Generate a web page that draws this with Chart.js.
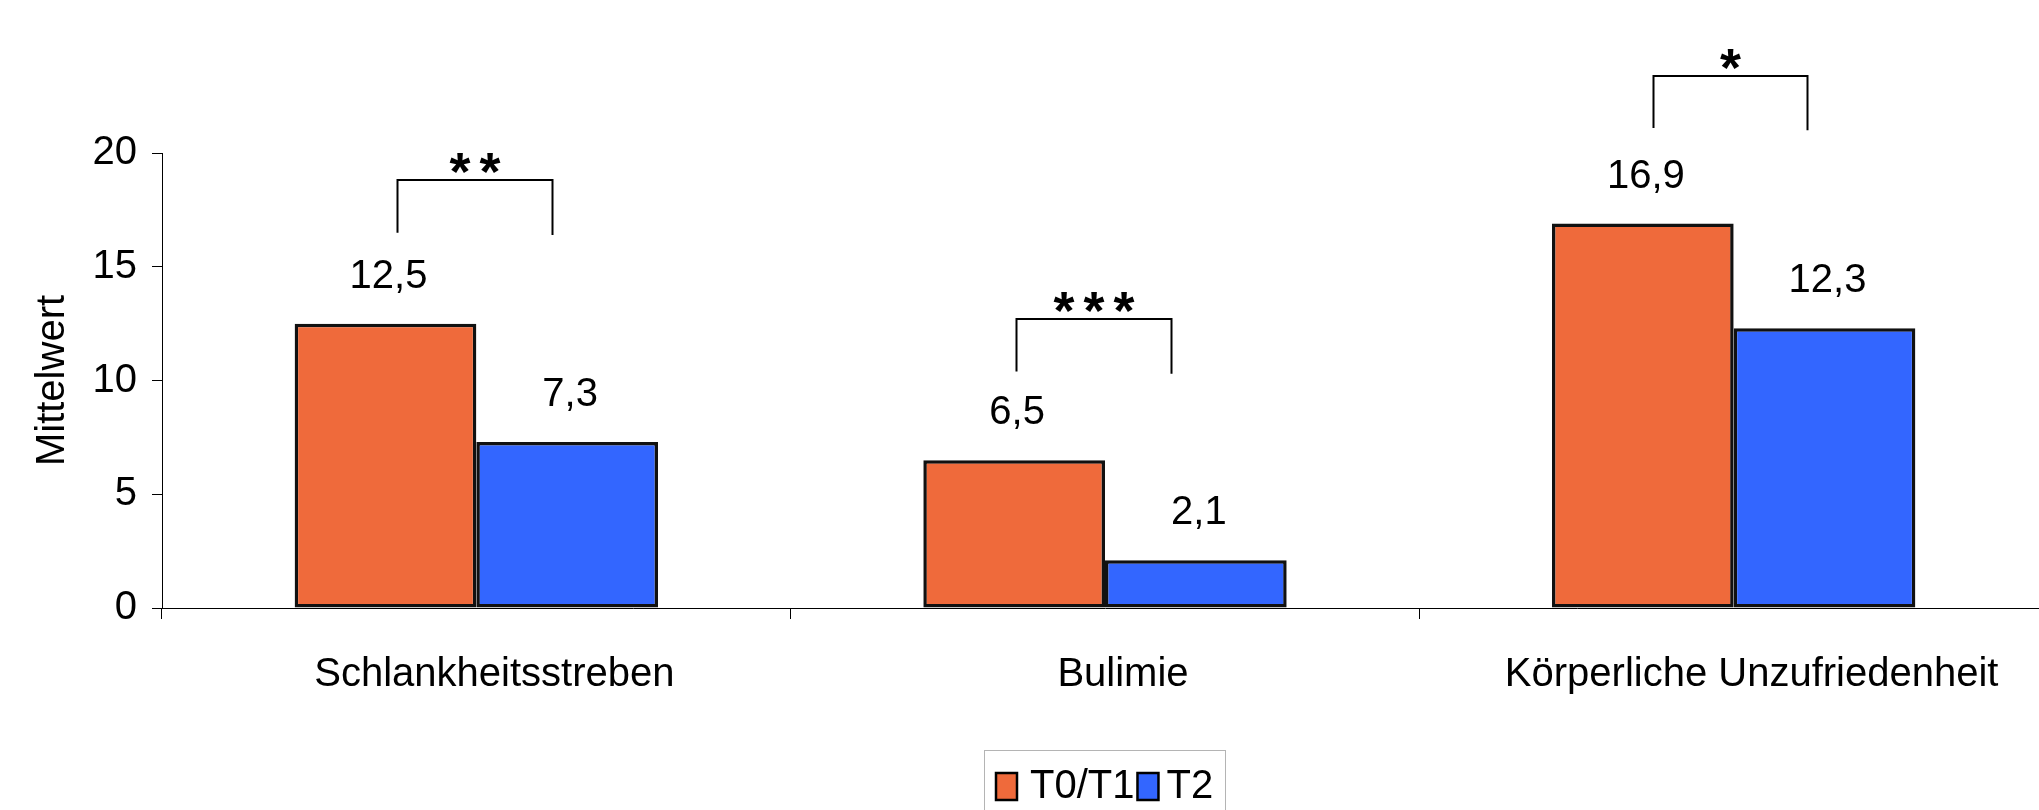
<!DOCTYPE html>
<html>
<head>
<meta charset="utf-8">
<script src="https://cdn.jsdelivr.net/npm/chart.js@4.4.1/dist/chart.umd.min.js"></script>
<style>
  html, body { margin: 0; padding: 0; background: #ffffff; overflow: hidden; }
  canvas { display: block; }
</style>
</head>
<body>
<canvas id="chart" width="2048" height="830"></canvas>
<script>
// ---- data ----
const categories = ['Schlankheitsstreben', 'Bulimie', 'Körperliche Unzufriedenheit'];
const seriesNames = ['T0/T1', 'T2'];
const valuesT0T1 = [12.5, 6.5, 16.9];
const valuesT2 = [7.3, 2.1, 12.3];
const yTickValues = [0, 5, 10, 15, 20];
const significance = ['**', '***', '*'];
const yAxisTitle = 'Mittelwert';

// ---- styling / annotation geometry (not data) ----
const FONT = "'Liberation Sans', Arial, Helvetica, sans-serif";
const FS = 40;
const COLORS = ['#EF6A3B', '#3366FF'];
const BRACKETS = {
  top:      [18.8, 12.7, 23.4],   // in y units
  leftEnd:  [16.5, 10.4, 21.1],
  rightEnd: [16.4, 10.3, 21.0],
  left:     [-0.434, -0.488, -0.445], // fraction of bar width from category centre
  right:    [0.417, 0.363, 0.403]
};

Chart.defaults.font.family = FONT;
Chart.defaults.font.size = FS;
Chart.defaults.color = '#000';

const overlay = {
  id: 'overlay',
  afterDatasetsDraw(chart) {
    const ctx = chart.ctx;
    const xs = chart.scales.x, ys = chart.scales.y;
    ctx.save();
    // value labels
    ctx.fillStyle = '#000';
    ctx.font = FS + 'px ' + FONT;
    ctx.textAlign = 'center';
    ctx.textBaseline = 'alphabetic';
    const digitH = ctx.measureText('0').actualBoundingBoxAscent;
    chart.data.datasets.forEach((ds, di) => {
      chart.getDatasetMeta(di).data.forEach((bar, i) => {
        const txt = ds.data[i].toFixed(1).replace('.', ',');
        ctx.fillText(txt, bar.x + 3, bar.y - 50 + digitH / 2);
      });
    });
    // significance brackets
    const barW = chart.getDatasetMeta(0).data[0].width;
    ctx.strokeStyle = '#000';
    ctx.lineWidth = 2;
    ctx.font = 'bold 100px ' + FONT;
    const m100 = ctx.measureText('*');
    const inkW100 = m100.actualBoundingBoxLeft + m100.actualBoundingBoxRight;
    const starSize = 100 * 21 / inkW100;
    ctx.font = 'bold ' + starSize.toFixed(1) + 'px ' + FONT;
    const ms = ctx.measureText('*');
    const a = ms.actualBoundingBoxAscent, d = ms.actualBoundingBoxDescent;
    const inkCx = (ms.actualBoundingBoxRight - ms.actualBoundingBoxLeft) / 2;
    ctx.textAlign = 'center';
    categories.forEach((c, i) => {
      const cx = xs.getPixelForValue(i);
      const xl = Math.round(cx + BRACKETS.left[i] * barW) + 0.5;
      const xr = Math.round(cx + BRACKETS.right[i] * barW) + 0.5;
      const yt = Math.round(ys.getPixelForValue(BRACKETS.top[i]));
      ctx.beginPath();
      ctx.moveTo(xl, ys.getPixelForValue(BRACKETS.leftEnd[i]));
      ctx.lineTo(xl, yt);
      ctx.lineTo(xr, yt);
      ctx.lineTo(xr, ys.getPixelForValue(BRACKETS.rightEnd[i]));
      ctx.stroke();
      const stars = significance[i];
      const mid = (xl + xr) / 2;
      const step = 30;
      const baseY = yt - 17 + (a - d) / 2;
      for (let k = 0; k < stars.length; k++) {
        const sx = mid + (k - (stars.length - 1) / 2) * step - inkCx;
        ctx.fillText('*', sx, baseY);
      }
    });
    ctx.restore();
  },
  afterDraw(chart) {
    // legend with frame
    const ctx = chart.ctx;
    ctx.save();
    ctx.font = FS + 'px ' + FONT;
    ctx.textBaseline = 'middle';
    ctx.textAlign = 'left';
    const padL = 12, padR = 12, box = 21, boxH = 27;
    const gapText = [13, 8], gapItem = 3;
    const widths = chart.data.datasets.map(ds => ctx.measureText(ds.label).width);
    let total = padL + padR;
    widths.forEach((w, i) => { total += box + gapText[i] + w + (i < widths.length - 1 ? gapItem : 0); });
    const cxl = (chart.chartArea.left + chart.chartArea.right) / 2;
    const left = Math.round(cxl - total / 2);
    const top = 750, height = 74;
    ctx.strokeStyle = '#b4b4b4';
    ctx.lineWidth = 1;
    ctx.strokeRect(left + 0.5, top + 0.5, Math.round(total), height);
    const cy = top + 36.5;
    let x = left + padL;
    chart.data.datasets.forEach((ds, i) => {
      ctx.fillStyle = ds.backgroundColor;
      ctx.fillRect(x, cy - boxH / 2, box, boxH);
      ctx.strokeStyle = '#000';
      ctx.lineWidth = 2.5;
      ctx.strokeRect(x, cy - boxH / 2, box, boxH);
      x += box + gapText[i];
      ctx.fillStyle = '#000';
      ctx.fillText(ds.label, x, cy);
      x += widths[i] + gapItem;
    });
    ctx.restore();
  }
};

new Chart(document.getElementById('chart'), {
  type: 'bar',
  data: {
    labels: categories,
    datasets: [
      { label: seriesNames[0], data: valuesT0T1, backgroundColor: COLORS[0] },
      { label: seriesNames[1], data: valuesT2, backgroundColor: COLORS[1] }
    ]
  },
  options: {
    responsive: false,
    animation: false,
    events: [],
    layout: { padding: { top: 153, right: 0, bottom: 102, left: 0 } },
    datasets: {
      bar: {
        borderColor: '#111111',
        borderWidth: 3.5,
        borderSkipped: false,
        barPercentage: 1.0,
        categoryPercentage: 0.578
      }
    },
    plugins: {
      legend: { display: false },
      tooltip: { enabled: false },
      title: { display: false }
    },
    scales: {
      x: {
        afterFit(scale) { scale.height = 120; },
        grid: { display: true, drawOnChartArea: false, drawTicks: true, tickLength: 11, color: '#000', lineWidth: 1, offset: true },
        border: { display: true, color: '#000', width: 1 },
        ticks: { color: '#000', font: { size: FS, family: FONT }, padding: 32, labelOffset: 18, maxRotation: 0, autoSkip: false }
      },
      y: {
        min: 0,
        max: 20,
        afterFit(scale) { scale.width = 162; },
        afterBuildTicks(scale) { scale.ticks = yTickValues.map(v => ({ value: v })); },
        grid: { display: true, drawOnChartArea: false, drawTicks: true, tickLength: 10, color: '#000', lineWidth: 1 },
        border: { display: true, color: '#000', width: 1 },
        ticks: { color: '#000', font: { size: FS, family: FONT }, padding: 15, callback: v => String(v) },
        title: { display: true, text: yAxisTitle, color: '#000', font: { size: FS, family: FONT }, padding: { top: 29, bottom: 0 } }
      }
    }
  },
  plugins: [overlay]
});
</script>
</body>
</html>
